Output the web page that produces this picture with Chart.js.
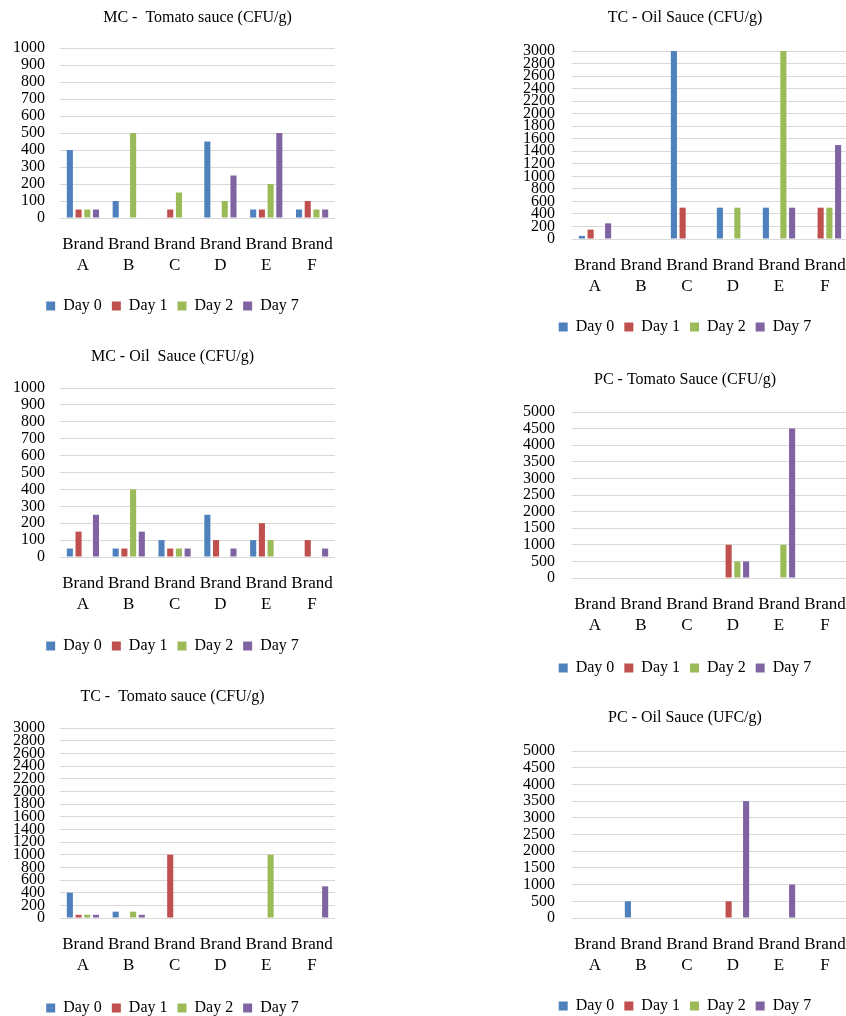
<!DOCTYPE html>
<html>
<head>
<meta charset="utf-8">
<title>Microbial counts in sauces</title>
<script src="https://cdn.jsdelivr.net/npm/chart.js@4.4.1/dist/chart.umd.min.js"></script>
<style>
  html, body { margin: 0; padding: 0; background: #fff; }
  body { position: relative; width: 846px; height: 1016px; overflow: hidden; }
  canvas { position: absolute; }
</style>
</head>
<body>
<canvas id="mcTomato"></canvas>
<canvas id="tcOil"></canvas>
<canvas id="mcOil"></canvas>
<canvas id="pcTomato"></canvas>
<canvas id="tcTomato"></canvas>
<canvas id="pcOil"></canvas>
<script>
'use strict';

// Kategorien (zweizeilig) und Serien
const brands = [
  ['Brand', 'A'], ['Brand', 'B'], ['Brand', 'C'],
  ['Brand', 'D'], ['Brand', 'E'], ['Brand', 'F'],
];
const days = ['Day 0', 'Day 1', 'Day 2', 'Day 7'];
const dayColors = ['#4F81BD', '#C0504D', '#9BBB59', '#8064A2'];

// Werte: eine Zeile pro Tag (Day 0, 1, 2, 7), eine Spalte pro Marke (A-F)
const mcTomato = [
  [400, 100, 0, 450, 50, 50],
  [50, 0, 50, 0, 50, 100],
  [50, 500, 150, 100, 200, 50],
  [50, 0, 0, 250, 500, 50],
];
const tcOil = [
  [50, 0, 3000, 500, 500, 0],
  [150, 0, 500, 0, 0, 500],
  [0, 0, 0, 500, 3000, 500],
  [250, 0, 0, 0, 500, 1500],
];
const mcOil = [
  [50, 50, 100, 250, 100, 0],
  [150, 50, 50, 100, 200, 100],
  [0, 400, 50, 0, 100, 0],
  [250, 150, 50, 50, 0, 50],
];
const pcTomato = [
  [0, 0, 0, 0, 0, 0],
  [0, 0, 0, 1000, 0, 0],
  [0, 0, 0, 500, 1000, 0],
  [0, 0, 0, 500, 4500, 0],
];
const tcTomato = [
  [400, 100, 0, 0, 0, 0],
  [50, 0, 1000, 0, 0, 0],
  [50, 100, 0, 0, 1000, 0],
  [50, 50, 0, 0, 0, 500],
];
const pcOil = [
  [0, 500, 0, 0, 0, 0],
  [0, 0, 0, 500, 0, 0],
  [0, 0, 0, 0, 0, 0],
  [0, 0, 0, 3500, 1000, 0],
];

// Achsenbeschriftungen
const ticksMC = [0, 100, 200, 300, 400, 500, 600, 700, 800, 900, 1000];
const ticksTC = [0, 200, 400, 600, 800, 1000, 1200, 1400, 1600, 1800, 2000, 2200, 2400, 2600, 2800, 3000];
const ticksPC = [0, 500, 1000, 1500, 2000, 2500, 3000, 3500, 4000, 4500, 5000];

const FONT = "'Liberation Serif', 'Times New Roman', serif";
const TEXT = '#000';

// Position jedes Diagramms auf der Seite (Pixel)
const layouts = {
  mcTomato: { left: 0, top: 0, width: 352, height: 330, plotLeft: 60, plotRight: 335, titleOverPlot: true, titleY: 18, plotTop: 48, plotBottom: 218, legendY: 306, tickPad: 15 },
  tcOil:    { left: 520, top: 0, width: 330, height: 350, plotLeft: 572, plotRight: 848, titleY: 18, plotTop: 51, plotBottom: 239, legendY: 327, tickPad: 17 },
  mcOil:    { left: 0, top: 340, width: 352, height: 330, plotLeft: 60, plotRight: 335, titleY: 357, plotTop: 388, plotBottom: 557, legendY: 646, tickPad: 15 },
  pcTomato: { left: 520, top: 360, width: 330, height: 330, plotLeft: 572, plotRight: 848, titleY: 380, plotTop: 412, plotBottom: 578, legendY: 668, tickPad: 17 },
  tcTomato: { left: 0, top: 680, width: 352, height: 360, plotLeft: 60, plotRight: 335, titleY: 697, plotTop: 728, plotBottom: 918, legendY: 1008, tickPad: 15 },
  pcOil:    { left: 520, top: 700, width: 330, height: 340, plotLeft: 572, plotRight: 848, titleY: 718, plotTop: 751, plotBottom: 918, legendY: 1006, tickPad: 17 },
};

function buildChart(id, title, values, tickValues) {
  const g = layouts[id];
  const canvas = document.getElementById(id);
  canvas.width = g.width;
  canvas.height = g.height;
  canvas.style.left = g.left + 'px';
  canvas.style.top = g.top + 'px';

  const yAxisWidth = 50;
  const titleLocal = g.titleY - g.top;
  const legendLocal = g.legendY - g.top;
  const xPad = 9;

  return new Chart(canvas.getContext('2d'), {
    type: 'bar',
    data: {
      labels: brands,
      datasets: days.map((day, i) => ({
        label: day,
        data: values[i],
        backgroundColor: dayColors[i],
        borderWidth: 0,
        categoryPercentage: 0.76,
        barPercentage: 0.7,
      })),
    },
    options: {
      responsive: false,
      animation: false,
      layout: {
        padding: {
          left: g.plotLeft - g.left - yAxisWidth,
          right: g.left + g.width - g.plotRight,
          top: 0,
          bottom: g.height - legendLocal - 18,
        },
      },
      plugins: {
        title: {
          display: true,
          text: title,
          color: TEXT,
          fullSize: !g.titleOverPlot,
          font: { family: FONT, size: 16, weight: 'normal', lineHeight: 1.2 },
          padding: {
            top: titleLocal - 9.6,
            bottom: g.plotTop - g.top - titleLocal - 9.6,
          },
        },
        legend: {
          position: 'bottom',
          labels: {
            color: TEXT,
            font: { family: FONT, size: 16 },
            boxWidth: 9,
            boxHeight: 9,
            padding: 10,
          },
        },
        tooltip: { enabled: false },
      },
      scales: {
        x: {
          grid: { display: false },
          border: { display: false },
          ticks: {
            color: TEXT,
            font: { family: FONT, size: 17, lineHeight: 1.18 },
            padding: xPad,
            maxRotation: 0,
            autoSkip: false,
          },
          afterFit: scale => {
            // Platz bis zur Legende, keine seitliche Zusatzpolsterung
            scale.height = g.legendY - 18 - g.plotBottom;
            scale.paddingLeft = 0;
            scale.paddingRight = 0;
          },
        },
        y: {
          min: 0,
          max: tickValues[tickValues.length - 1],
          grid: { color: '#d9d9d9', drawTicks: false },
          border: { display: false },
          ticks: {
            color: TEXT,
            font: { family: FONT, size: 16 },
            padding: g.tickPad,
            autoSkip: false,
            callback: value => String(value),
          },
          afterBuildTicks: scale => {
            scale.ticks = tickValues.map(v => ({ value: v }));
          },
          afterFit: scale => {
            scale.width = yAxisWidth;
          },
        },
      },
    },
  });
}

document.addEventListener('DOMContentLoaded', () => {
  buildChart('mcTomato', 'MC -  Tomato sauce (CFU/g)', mcTomato, ticksMC);
  buildChart('tcOil', 'TC - Oil Sauce (CFU/g)', tcOil, ticksTC);
  buildChart('mcOil', 'MC - Oil  Sauce (CFU/g)', mcOil, ticksMC);
  buildChart('pcTomato', 'PC - Tomato Sauce (CFU/g)', pcTomato, ticksPC);
  buildChart('tcTomato', 'TC -  Tomato sauce (CFU/g)', tcTomato, ticksTC);
  buildChart('pcOil', 'PC - Oil Sauce (UFC/g)', pcOil, ticksPC);
});
</script>
</body>
</html>
